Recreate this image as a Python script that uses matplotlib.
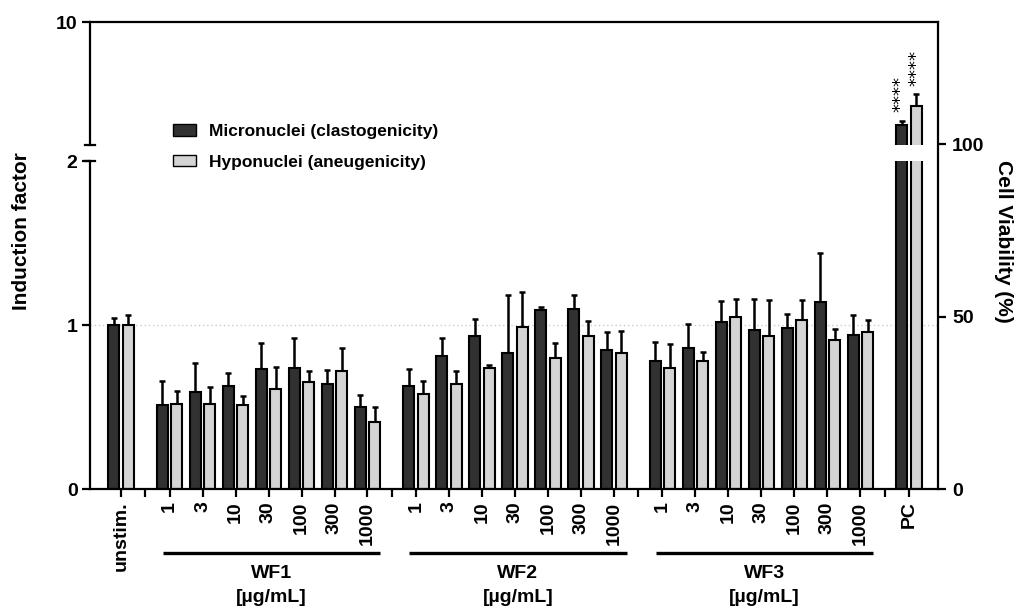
import numpy as np
import matplotlib.pyplot as plt
from matplotlib.patches import Patch
from matplotlib.transforms import blended_transform_factory

# Arial-like bold text everywhere
plt.rcParams['font.family'] = ['Liberation Sans', 'DejaVu Sans']
plt.rcParams['font.weight'] = 'bold'

# --- data ---
conc = ['1', '3', '10', '30', '100', '300', '1000']
groups = ['WF1', 'WF2', 'WF3']
labels = ['unstim.'] + conc * 3 + ['PC']

# Micronuclei (clastogenicity), mean and SD
micro = [1.00,
         0.51, 0.59, 0.63, 0.73, 0.74, 0.64, 0.50,
         0.63, 0.81, 0.93, 0.83, 1.09, 1.10, 0.85,
         0.78, 0.86, 1.02, 0.97, 0.98, 1.14, 0.94,
         3.32]
micro_sd = [0.04,
            0.15, 0.18, 0.08, 0.16, 0.18, 0.085, 0.075,
            0.10, 0.11, 0.105, 0.35, 0.02, 0.08, 0.11,
            0.115, 0.145, 0.125, 0.19, 0.09, 0.30, 0.12,
            0.28]

# Hyponuclei (aneugenicity), mean and SD
hypo = [1.00,
        0.52, 0.52, 0.51, 0.61, 0.65, 0.72, 0.41,
        0.58, 0.64, 0.74, 0.99, 0.80, 0.93, 0.83,
        0.74, 0.78, 1.05, 0.93, 1.03, 0.91, 0.96,
        4.57]
hypo_sd = [0.06,
           0.08, 0.10, 0.06, 0.135, 0.07, 0.14, 0.087,
           0.077, 0.08, 0.016, 0.21, 0.088, 0.093, 0.136,
           0.145, 0.055, 0.11, 0.22, 0.12, 0.064, 0.07,
           0.74]

pc_stars = '****'

dark = '#313131'
light = '#d4d4d4'

# --- x positions: unstim, three groups of 7, PC, with gaps between ---
gap = 1.47
pos = [0.0]
gap_ticks = []
x = 0.0
for g in groups:
    gap_ticks.append(x + gap / 2)
    x += gap
    for i in range(len(conc)):
        pos.append(x + i)
    x += len(conc) - 1
gap_ticks.append(x + gap / 2)
pos.append(x + gap)
pos = np.array(pos)

micro = np.array(micro)
hypo = np.array(hypo)
w = 0.333
off = 0.215
xlim = (-0.94, 24.76)

fig = plt.figure(figsize=(10.22, 6.10), dpi=100)
L = 90 / 1022
W = (938 - 90) / 1022
ax_bot = fig.add_axes([L, 121 / 610, W, (489 - 161) / 610])
ax_top = fig.add_axes([L, (610 - 145.3) / 610, W, (145.3 - 22.3) / 610])
ax_r = fig.add_axes([L, 121 / 610, W, (489 - 22.3) / 610])
ax_r.patch.set_visible(False)

for ax in (ax_bot, ax_top):
    ax.bar(pos - off, micro, w, color=dark, edgecolor='black', linewidth=1.5, zorder=2)
    ax.bar(pos + off, hypo, w, color=light, edgecolor='black', linewidth=1.5, zorder=2)
    ax.errorbar(pos - off, micro, yerr=[np.zeros(len(micro)), micro_sd], fmt='none',
                ecolor='black', elinewidth=1.8, capsize=2.5, capthick=1.8, zorder=1)
    ax.errorbar(pos + off, hypo, yerr=[np.zeros(len(hypo)), hypo_sd], fmt='none',
                ecolor='black', elinewidth=1.8, capsize=2.5, capthick=1.8, zorder=1)
    ax.set_xlim(*xlim)
    for s in ax.spines.values():
        s.set_linewidth(1.6)

# lower segment 0-2
ax_bot.set_ylim(0, 2)
ax_bot.set_yticks([0, 1, 2])
ax_bot.set_yticklabels(['0', '1', '2'])
ax_bot.axhline(1, color='#cccccc', ls=(0, (1, 2)), lw=1, zorder=0)
ax_bot.spines['top'].set_visible(False)
ax_bot.spines['right'].set_visible(False)
ax_bot.set_xticks(pos)
ax_bot.set_xticklabels(labels, rotation=90)
ax_bot.set_xticks(gap_ticks, minor=True)
ax_bot.tick_params(axis='both', which='both', width=1.6, length=6, labelsize=14, pad=3)
ax_bot.plot([-0.006, 0.006], [1, 1], transform=ax_bot.transAxes, color='black',
            lw=1.6, clip_on=False)

# upper segment 2-10
ax_top.set_ylim(2, 10)
ax_top.set_yticks([10])
ax_top.set_yticklabels(['10'])
ax_top.set_xticks([])
ax_top.spines['top'].set_visible(False)
ax_top.spines['right'].set_visible(False)
ax_top.spines['bottom'].set_visible(False)
ax_top.tick_params(axis='y', width=1.6, length=6, labelsize=14, pad=3)
ax_top.plot([-0.006, 0.006], [0, 0], transform=ax_top.transAxes, color='black',
            lw=1.6, clip_on=False)

# significance stars above PC bars
for xs, top, dx in [(pos[-1] - off, micro[-1] + micro_sd[-1], -1),
                    (pos[-1] + off, hypo[-1] + hypo_sd[-1], 0)]:
    ax_top.annotate(pc_stars, xy=(xs, top), xytext=(dx, 6), textcoords='offset points',
                    rotation=90, ha='center', va='bottom', fontsize=13,
                    family='DejaVu Sans', fontweight='normal', linespacing=0.9)

# right axis: cell viability
ax_r.set_xlim(*xlim)
ax_r.set_ylim(0, 135.4)
ax_r.set_xticks([])
ax_r.yaxis.tick_right()
ax_r.set_yticks([0, 50, 100])
ax_r.spines['left'].set_visible(False)
ax_r.spines['bottom'].set_visible(False)
ax_r.spines['right'].set_linewidth(1.6)
ax_r.spines['top'].set_linewidth(1.6)
ax_r.tick_params(axis='y', width=1.6, length=6, labelsize=14, pad=4)

# axis titles
fig.text(22 / 1022, 1 - 231 / 610, 'Induction factor', rotation=90,
         ha='center', va='center', fontsize=15)
fig.text(1003 / 1022, 1 - 241 / 610, 'Cell Viability (%)', rotation=270,
         ha='center', va='center', fontsize=15)

# group lines and labels under the x axis
tr = blended_transform_factory(ax_bot.transData, fig.transFigure)
for k, g in enumerate(groups):
    gp = pos[1 + 7 * k: 8 + 7 * k]
    x0, x1 = gp[0] - 0.21, gp[-1] + 0.39
    ax_bot.plot([x0, x1], [1 - 552.7 / 610] * 2, transform=tr, color='black',
                lw=2.4, clip_on=False, solid_capstyle='butt')
    xc = (x0 + x1) / 2
    ax_bot.text(xc, 1 - 574 / 610, g, transform=tr, ha='center', va='center', fontsize=14)
    ax_bot.text(xc, 1 - 598 / 610, '[µg/mL]', transform=tr, ha='center', va='center',
                fontsize=14)

# legend
handles = [Patch(facecolor=dark, edgecolor='black', label='Micronuclei (clastogenicity)'),
           Patch(facecolor=light, edgecolor='black', label='Hyponuclei (aneugenicity)')]
fig.legend(handles=handles, loc='upper left', bbox_to_anchor=(173 / 1022, 1 - 124 / 610),
           frameon=False, fontsize=12.5, handlelength=1.3, handleheight=0.65,
           handletextpad=0.75, labelspacing=0.9, borderpad=0, borderaxespad=0)

fig.savefig('out.png', dpi=100)
